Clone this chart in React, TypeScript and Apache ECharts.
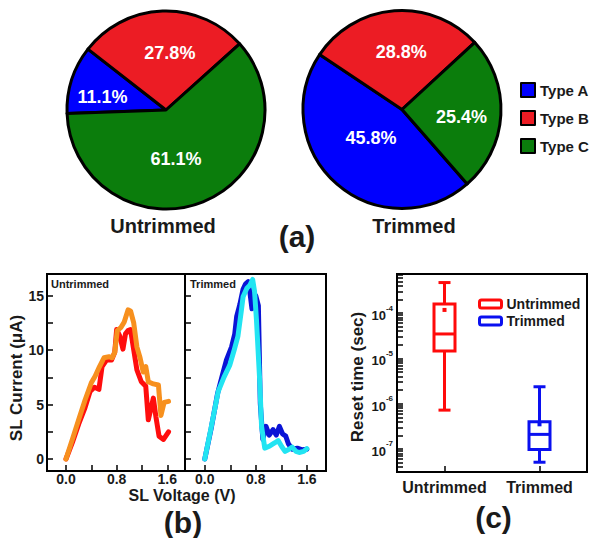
import React, { useEffect, useRef } from 'react';
import * as echarts from 'echarts';

// ---- (a) share of switching types ----
const TYPES = ['Type A', 'Type B', 'Type C'];
const UNTRIMMED_SHARE = [11.1, 27.8, 61.1];
const TRIMMED_SHARE = [45.8, 28.8, 25.4];

// ---- (b) SL current (uA) vs SL voltage (V) ----
const UNTRIMMED_IV_1: [number, number][] = [
  [0, 0], [0.1, 1.5], [0.2, 3.2], [0.3, 4.7], [0.38, 6.2], [0.45, 6.6], [0.52, 6.4],
  [0.57, 8.5], [0.64, 9.1], [0.72, 9.1], [0.77, 9.8], [0.8, 11.9], [0.85, 11.3],
  [0.9, 10.1], [0.94, 11.5], [0.98, 11.8], [1.02, 11.9], [1.06, 10.4], [1.12, 8.2],
  [1.19, 7.1], [1.26, 6.7], [1.3, 3.6], [1.38, 5.6], [1.42, 3.9], [1.47, 2.1],
  [1.54, 1.8], [1.62, 2.5],
];
const UNTRIMMED_IV_2: [number, number][] = [
  [0, 0], [0.1, 1.8], [0.2, 3.6], [0.3, 5.4], [0.4, 7.0], [0.46, 7.6], [0.53, 8.5],
  [0.6, 9.3], [0.68, 9.4], [0.73, 9.3], [0.77, 9.8], [0.81, 11.8], [0.87, 12.1],
  [0.92, 12.6], [0.98, 13.7], [1.02, 13.6], [1.07, 12.5], [1.12, 10.3], [1.17, 9.3],
  [1.22, 8.0], [1.26, 8.5], [1.3, 7.1], [1.38, 6.9], [1.46, 6.8], [1.5, 4.0],
  [1.55, 5.2], [1.62, 5.3],
];
const TRIMMED_IV_1: [number, number][] = [
  [0, 0], [0.1, 2.8], [0.2, 6.0], [0.28, 7.8], [0.34, 9.1], [0.42, 10.3], [0.47, 11.5],
  [0.5, 13.1], [0.55, 14.2], [0.6, 15.6], [0.64, 16.1], [0.68, 16.3], [0.71, 15.2],
  [0.74, 13.8], [0.76, 15.3], [0.8, 15.0], [0.84, 14.1], [0.87, 5.1], [0.91, 1.8],
  [0.96, 3.0], [1.01, 2.2], [1.07, 2.7], [1.12, 2.2], [1.17, 3.0], [1.22, 2.3],
  [1.27, 2.1], [1.31, 1.4], [1.37, 0.9], [1.45, 1.0], [1.53, 0.85], [1.6, 0.9],
];
const TRIMMED_IV_2: [number, number][] = [
  [0, 0], [0.1, 2.9], [0.21, 6.2], [0.3, 7.5], [0.39, 8.6], [0.46, 10.0], [0.52, 11.3],
  [0.57, 13.5], [0.6, 14.9], [0.66, 15.7], [0.71, 16.0], [0.75, 16.5], [0.78, 15.4],
  [0.81, 12.8], [0.86, 7.3], [0.89, 3.0], [0.94, 1.0], [1.02, 1.2], [1.1, 1.5],
  [1.15, 1.7], [1.21, 1.1], [1.26, 0.7], [1.32, 0.9], [1.37, 1.1], [1.43, 0.7],
  [1.48, 0.6], [1.55, 0.7], [1.6, 0.95],
];
const IV_TICKS_X = [0, 0.4, 0.8, 1.2, 1.6];
const IV_LABELS_X = [0, 0.8, 1.6];
const IV_TICKS_Y = [0, 2.5, 5, 7.5, 10, 12.5, 15];
const IV_LABELS_Y = [0, 5, 10, 15];

// ---- (c) reset time (s): [whisker low, Q1, median, Q3, whisker high, mean] ----
const GROUPS = ['Untrimmed', 'Trimmed'];
const RESET_UNTRIMMED = [7.2e-7, 1.45e-5, 3.45e-5, 1.58e-4, 4.7e-4, 1.17e-4];
const RESET_TRIMMED = [5.1e-8, 9.8e-8, 2.1e-7, 3.97e-7, 2.36e-6, 3.5e-7];
const DECADES = [-7, -6, -5, -4];

const FONT = '"Liberation Sans", Arial, Helvetica, sans-serif';
const INK = '#1a1a1a';
const PIE_COLORS = ['#0000fe', '#ec1c24', '#0b7d0c'];
const LEFT_LABEL_SHIFT = [[-13.5, 3.5], [5.7, -5], [-9.7, 0.6]];
const RIGHT_LABEL_SHIFT = [[3.5, -11], [3.4, -5.2], [7, 4.8]];
const BOX_COLORS = ['#ff0a0a', '#0a10f0'];

const log10 = (v: number) => Math.log10(v);
const LOG_MIN = -7.508;
const LOG_MAX = -3.139;

const AXIS_LINE = { show: true, onZero: false, lineStyle: { color: '#000', width: 2 } };

// decade and 2..9 sub-decade tick positions on the log10 scale
function logTicks(): number[] {
  const out: number[] = [];
  for (let d = -8; d <= -3; d++) {
    for (let k = 1; k <= 9; k++) {
      const v = d + Math.log10(k);
      if (v > LOG_MIN && v < LOG_MAX) out.push(v);
    }
  }
  return out;
}

function pieSeries(name: string, shares: number[], center: number[], startAngle: number, shifts: number[][]) {
  return {
    type: 'pie',
    name,
    center,
    radius: 99,
    startAngle,
    clockwise: true,
    silent: true,
    avoidLabelOverlap: false,
    itemStyle: { borderColor: '#000', borderWidth: 3 },
    label: {
      show: true,
      position: 'inside',
      formatter: (p: any) => `${Number(p.value).toFixed(1)}%`,
      color: '#fff',
      fontSize: 18,
      fontWeight: 'bold',
      fontFamily: FONT,
    },
    labelLine: { show: false },
    data: TYPES.map((t, i) => ({
      name: t,
      value: shares[i],
      itemStyle: { color: PIE_COLORS[i] },
      label: { offset: shifts[i] },
    })),
  };
}

function ivLine(name: string, data: [number, number][], color: string, axis: number) {
  return {
    type: 'line',
    name,
    xAxisIndex: axis,
    yAxisIndex: axis,
    data,
    symbol: 'none',
    silent: true,
    lineStyle: { color, width: 5, join: 'round', cap: 'round' },
    itemStyle: { color },
  };
}

const tickLabelStyle = { fontFamily: FONT, fontWeight: 'bold', fontSize: 14, color: INK };

function ivXAxis(grid: number, min: number, max: number) {
  return {
    gridIndex: grid,
    type: 'value',
    position: 'bottom',
    min,
    max,
    axisLine: AXIS_LINE,
    splitLine: { show: false },
    axisTick: { show: true, inside: true, length: 6, customValues: IV_TICKS_X, lineStyle: { color: '#000', width: 1.5 } },
    axisLabel: { ...tickLabelStyle, margin: 1, customValues: IV_LABELS_X, formatter: (v: number) => v.toFixed(1) },
  };
}

function ivYAxis(grid: number, labels: boolean) {
  return {
    gridIndex: grid,
    type: 'value',
    position: 'left',
    min: -1.1,
    max: 17,
    axisLine: AXIS_LINE,
    splitLine: { show: false },
    axisTick: { show: true, inside: true, length: 6, customValues: IV_TICKS_Y, lineStyle: { color: '#000', width: 1.5 } },
    axisLabel: { ...tickLabelStyle, show: labels, margin: 3, customValues: IV_LABELS_Y },
  };
}

function boxSeries(name: string, idx: number, stats: number[]) {
  const color = BOX_COLORS[idx];
  return {
    type: 'custom',
    name,
    xAxisIndex: 2,
    yAxisIndex: 2,
    silent: true,
    itemStyle: { color: '#fff', borderColor: color, borderWidth: 3 },
    data: [[idx, ...stats.map(log10)]],
    encode: { x: 0, y: [1, 2, 3, 4, 5] },
    renderItem: (params: any, api: any) => {
      const x = api.value(0);
      const [, yLo] = api.coord([x, api.value(1)]);
      const [, yQ1] = api.coord([x, api.value(2)]);
      const [cx, yMed] = api.coord([x, api.value(3)]);
      const [, yQ3] = api.coord([x, api.value(4)]);
      const [, yHi] = api.coord([x, api.value(5)]);
      const [, yMean] = api.coord([x, api.value(6)]);
      const half = 10.5;
      const cap = 6;
      const s = { stroke: color, lineWidth: 3, fill: 'none' };
      return {
        type: 'group',
        children: [
          { type: 'line', shape: { x1: cx, y1: yHi, x2: cx, y2: yQ3 }, style: s },
          { type: 'line', shape: { x1: cx, y1: yQ1, x2: cx, y2: yLo }, style: s },
          { type: 'line', shape: { x1: cx - cap, y1: yHi, x2: cx + cap, y2: yHi }, style: s },
          { type: 'line', shape: { x1: cx - cap, y1: yLo, x2: cx + cap, y2: yLo }, style: s },
          { type: 'rect', shape: { x: cx - half, y: yQ3, width: half * 2, height: yQ1 - yQ3 }, style: s },
          { type: 'line', shape: { x1: cx - half, y1: yMed, x2: cx + half, y2: yMed }, style: s },
          { type: 'rect', shape: { x: cx - 2, y: yMean - 2, width: 4, height: 4 }, style: { fill: color } },
        ],
      };
    },
  };
}

function text(t: string, x: number, y: number, size: number, extra: any = {}) {
  return {
    type: 'text',
    x,
    y,
    silent: true,
    ...extra,
    style: {
      text: t,
      fill: INK,
      font: `bold ${size}px ${FONT}`,
      align: extra.align || 'center',
      verticalAlign: 'middle',
    },
  };
}

export default function App() {
  const ref = useRef<HTMLDivElement>(null);

  useEffect(() => {
    if (!ref.current) return;
    const chart = echarts.init(ref.current, undefined, { renderer: 'svg' });

    chart.setOption({
      animation: false,
      backgroundColor: '#fff',
      legend: [
        {
          data: TYPES,
          orient: 'vertical',
          left: 515,
          top: 77,
          icon: 'rect',
          itemWidth: 14,
          itemHeight: 14,
          itemGap: 12,
          selectedMode: false,
          textStyle: { fontFamily: FONT, fontWeight: 'bold', fontSize: 15, color: INK },
        },
        {
          data: GROUPS.map((g, i) => ({
            name: g,
            icon: 'roundRect',
            itemStyle: { color: '#fff', borderColor: BOX_COLORS[i], borderWidth: 3 },
          })),
          orient: 'vertical',
          left: 473,
          top: 292,
          itemWidth: 22,
          itemHeight: 8,
          itemGap: 3,
          selectedMode: false,
          textStyle: { fontFamily: FONT, fontWeight: 'bold', fontSize: 14, color: INK },
        },
      ],
      grid: [
        { left: 47, top: 274, width: 138, height: 197, show: true, borderColor: '#000', borderWidth: 2, backgroundColor: 'transparent' },
        { left: 185, top: 274, width: 141, height: 197, show: true, borderColor: '#000', borderWidth: 2, backgroundColor: 'transparent' },
        { left: 397, top: 274, width: 190, height: 198, show: true, borderColor: '#000', borderWidth: 2, backgroundColor: 'transparent' },
      ],
      xAxis: [
        ivXAxis(0, -0.3, 1.88),
        ivXAxis(1, -0.31, 1.9),
        {
          gridIndex: 2,
          type: 'category',
          position: 'bottom',
          data: GROUPS,
          axisLine: AXIS_LINE,
          axisTick: { show: true, inside: true, alignWithLabel: true, length: 6, lineStyle: { color: '#000', width: 1.5 } },
          axisLabel: { interval: 0, fontFamily: FONT, fontWeight: 'bold', fontSize: 16, color: INK, margin: 7 },
        },
      ],
      yAxis: [
        ivYAxis(0, true),
        ivYAxis(1, false),
        {
          gridIndex: 2,
          type: 'value',
          position: 'left',
          min: LOG_MIN,
          max: LOG_MAX,
          axisLine: AXIS_LINE,
          splitLine: { show: false },
          axisTick: { show: true, inside: true, length: 6, customValues: logTicks(), lineStyle: { color: '#000', width: 1.5 } },
          axisLabel: {
            customValues: DECADES,
            margin: 4,
            formatter: (v: number) => `{b|10}{s|${Math.round(v)}}`,
            rich: {
              b: { fontFamily: FONT, fontWeight: 'bold', fontSize: 13, color: INK, verticalAlign: 'bottom', lineHeight: 18 },
              s: { fontFamily: FONT, fontWeight: 'bold', fontSize: 8, color: INK, verticalAlign: 'top' },
            },
          },
        },
      ],
      series: [
        pieSeries('untrimmed share', UNTRIMMED_SHARE, [166, 110], 182, LEFT_LABEL_SHIFT),
        pieSeries('trimmed share', TRIMMED_SHARE, [402, 109.5], -48.8, RIGHT_LABEL_SHIFT),
        ivLine('untrimmed cell 1', UNTRIMMED_IV_1, '#ff0d0d', 0),
        ivLine('untrimmed cell 2', UNTRIMMED_IV_2, '#f7901e', 0),
        ivLine('trimmed cell 1', TRIMMED_IV_1, '#0a14d6', 1),
        ivLine('trimmed cell 2', TRIMMED_IV_2, '#22e4f2', 1),
        boxSeries('Untrimmed', 0, RESET_UNTRIMMED),
        boxSeries('Trimmed', 1, RESET_TRIMMED),
      ],
      graphic: [
        text('Untrimmed', 163, 226, 20),
        text('Trimmed', 414, 226, 20),
        text('(a)', 297, 236, 30),
        text('Untrimmed', 51, 283.5, 11, { align: 'left' }),
        text('Trimmed', 190, 283.5, 11, { align: 'left' }),
        text('SL Current (\u03bcA)', 16, 378, 17, { rotation: Math.PI / 2 }),
        text('SL Voltage (V)', 182, 495, 16),
        text('(b)', 183, 522, 30),
        text('Reset time (sec)', 357.5, 377, 17, { rotation: Math.PI / 2 }),
        text('(c)', 493.5, 517.5, 30),
      ],
    });

    return () => chart.dispose();
  }, []);

  return <div ref={ref} style={{ position: 'absolute', left: 0, top: 0, width: 593, height: 538 }} />;
}
